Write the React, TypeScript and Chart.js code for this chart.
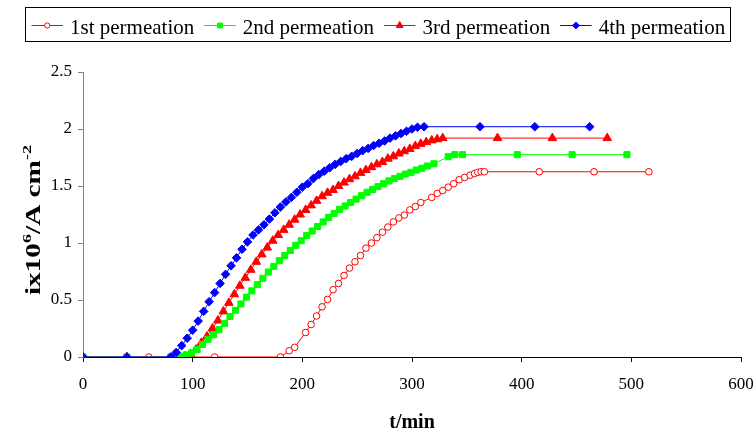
import React, { useEffect, useRef } from 'react';
import { Chart, registerables } from 'chart.js';

Chart.register(...registerables);

const SERIES_NAMES = ['1st permeation', '2nd permeation', '3rd permeation', '4th permeation'];

const X_TICKS = [0, 100, 200, 300, 400, 500, 600];
const Y_TICKS = [0, 0.5, 1, 1.5, 2, 2.5];

const T1 = [0, 60, 120, 180, 188, 193, 203, 208, 213, 218, 223, 228, 233, 238, 243, 248, 253, 258, 263, 268, 273, 278, 283, 288, 293, 298, 303, 308, 318, 323, 328, 333, 338, 343, 348, 353, 357, 360, 363, 366, 416, 466, 516];
const V1 = [0, 0, 0, 0, 0.055, 0.085, 0.215, 0.285, 0.36, 0.44, 0.505, 0.59, 0.645, 0.715, 0.78, 0.835, 0.89, 0.955, 1.0, 1.047, 1.095, 1.14, 1.185, 1.22, 1.245, 1.29, 1.32, 1.355, 1.4, 1.435, 1.46, 1.49, 1.52, 1.555, 1.575, 1.595, 1.61, 1.62, 1.625, 1.625, 1.625, 1.625, 1.625];

const T2 = [0, 40, 80, 84, 89, 94, 99, 104, 109, 114, 119, 124, 129, 134, 139, 144, 149, 154, 159, 164, 169, 174, 179, 184, 189, 194, 199, 204, 209, 214, 219, 224, 229, 234, 239, 244, 249, 254, 259, 264, 269, 274, 279, 284, 289, 294, 299, 304, 309, 314, 320, 333, 339, 346, 396, 446, 496];
const V2 = [0, 0, 0, 0, 0.005, 0.018, 0.035, 0.065, 0.11, 0.155, 0.195, 0.24, 0.295, 0.355, 0.41, 0.465, 0.525, 0.58, 0.635, 0.69, 0.745, 0.795, 0.845, 0.89, 0.935, 0.98, 1.02, 1.065, 1.105, 1.145, 1.185, 1.225, 1.26, 1.295, 1.325, 1.355, 1.385, 1.415, 1.445, 1.47, 1.495, 1.52, 1.545, 1.565, 1.585, 1.605, 1.62, 1.64, 1.655, 1.675, 1.695, 1.757, 1.775, 1.775, 1.775, 1.775, 1.775];

const T3 = [0, 40, 88, 93, 98, 103, 108, 113, 118, 123, 128, 133, 138, 143, 148, 153, 158, 163, 168, 173, 178, 183, 188, 193, 198, 203, 208, 213, 218, 223, 228, 233, 238, 243, 248, 253, 258, 263, 268, 273, 278, 283, 288, 293, 298, 303, 308, 313, 318, 323, 328, 378, 428, 478];
const V3 = [0, 0, 0, 0.005, 0.025, 0.065, 0.125, 0.18, 0.25, 0.32, 0.4, 0.475, 0.55, 0.625, 0.695, 0.765, 0.835, 0.9, 0.96, 1.02, 1.07, 1.115, 1.16, 1.205, 1.25, 1.29, 1.33, 1.37, 1.41, 1.44, 1.465, 1.5, 1.53, 1.56, 1.585, 1.615, 1.64, 1.665, 1.69, 1.71, 1.74, 1.76, 1.785, 1.805, 1.825, 1.85, 1.87, 1.885, 1.9, 1.91, 1.92, 1.92, 1.92, 1.92];

const T4 = [0, 40, 80, 85, 90, 95, 100, 105, 110, 115, 120, 125, 130, 135, 140, 145, 150, 155, 160, 165, 170, 175, 180, 185, 190, 195, 200, 205, 210, 215, 220, 225, 230, 235, 240, 245, 250, 255, 260, 265, 270, 275, 280, 285, 290, 295, 300, 305, 311, 362, 412, 462];
const V4 = [0, 0, 0, 0.04, 0.1, 0.165, 0.235, 0.315, 0.4, 0.485, 0.565, 0.645, 0.725, 0.8, 0.87, 0.945, 1.01, 1.07, 1.115, 1.16, 1.21, 1.265, 1.315, 1.36, 1.4, 1.445, 1.49, 1.52, 1.565, 1.6, 1.63, 1.66, 1.69, 1.715, 1.74, 1.76, 1.785, 1.81, 1.83, 1.855, 1.875, 1.895, 1.92, 1.94, 1.96, 1.98, 2.0, 2.015, 2.02, 2.02, 2.02, 2.02];

const COLORS = ['#FF0000', '#00FF00', '#FF0000', '#0000FF'];
const STYLES = ['circle', 'rect', 'triangle', 'rectRot'];
const RADII = [3.3, 4.3, 5, 4.3];

const FONT = "'Liberation Serif', 'Times New Roman', serif";

function pts(t: number[], v: number[]) {
  return t.map((x, i) => ({ x, y: v[i] }));
}

function drawMarker(ctx: CanvasRenderingContext2D, style: string, x: number, y: number, r: number, color: string) {
  ctx.save();
  ctx.strokeStyle = color;
  ctx.fillStyle = style === 'circle' ? '#FFFFFF' : color;
  ctx.lineWidth = 1;
  ctx.beginPath();
  if (style === 'circle') {
    ctx.arc(x, y, r, 0, Math.PI * 2);
  } else if (style === 'rect') {
    const s = r * Math.SQRT1_2;
    ctx.rect(x - s, y - s, 2 * s, 2 * s);
  } else if (style === 'triangle') {
    ctx.moveTo(x, y - r);
    ctx.lineTo(x + r * 0.866, y + r * 0.5);
    ctx.lineTo(x - r * 0.866, y + r * 0.5);
    ctx.closePath();
  } else {
    ctx.moveTo(x, y - r);
    ctx.lineTo(x + r, y);
    ctx.lineTo(x, y + r);
    ctx.lineTo(x - r, y);
    ctx.closePath();
  }
  ctx.fill();
  ctx.stroke();
  ctx.restore();
}

const decorPlugin = {
  id: 'decor',
  afterDraw(chart: any) {
    const ctx: CanvasRenderingContext2D = chart.ctx;
    const area = chart.chartArea;
    ctx.save();
    // Legend
    ctx.font = `21px ${FONT}`;
    let x = 31.5;
    const ly = 25.5;
    const ends: number[] = [];
    SERIES_NAMES.forEach((name, i) => {
      ctx.strokeStyle = COLORS[i];
      ctx.lineWidth = 1;
      ctx.beginPath();
      ctx.moveTo(x, ly);
      ctx.lineTo(x + 31.5, ly);
      ctx.stroke();
      drawMarker(ctx, STYLES[i], x + 15.75, ly, RADII[i] * 0.8, COLORS[i]);
      ctx.fillStyle = '#000';
      ctx.textAlign = 'left';
      ctx.textBaseline = 'alphabetic';
      ctx.fillText(name, x + 38.5, 34);
      const w = ctx.measureText(name).width;
      ends.push(x + 38.5 + w);
      x = x + 38.5 + w + 10;
    });
    ctx.strokeStyle = '#000';
    ctx.lineWidth = 1;
    ctx.strokeRect(25.5, 7.5, Math.round(ends[ends.length - 1] + 5) - 25, 34);

    // X title
    ctx.fillStyle = '#000';
    ctx.font = `bold 20px ${FONT}`;
    ctx.textAlign = 'center';
    ctx.textBaseline = 'alphabetic';
    ctx.fillText('t/min', (area.left + area.right) / 2, 428);

    // Y title with superscripts
    const parts = [
      { t: 'ix10', sup: false },
      { t: '6', sup: true },
      { t: '/A cm', sup: false },
      { t: '-2', sup: true },
    ];
    const big = `bold 21px ${FONT}`;
    const small = `bold 13px ${FONT}`;
    let total = 0;
    const widths = parts.map((p) => {
      ctx.font = p.sup ? small : big;
      const w = ctx.measureText(p.t).width;
      total += w;
      return w;
    });
    const target = 150;
    ctx.translate(40, 220);
    ctx.rotate(-Math.PI / 2);
    ctx.scale(target / total, 1);
    let px = -total / 2;
    ctx.textAlign = 'left';
    parts.forEach((p, i) => {
      ctx.font = p.sup ? small : big;
      ctx.fillText(p.t, px, p.sup ? -9 : 0);
      px += widths[i];
    });
    ctx.restore();
  },
};

export default function App() {
  const ref = useRef<HTMLCanvasElement | null>(null);

  useEffect(() => {
    const canvas = ref.current;
    if (!canvas) return;
    const data = [pts(T1, V1), pts(T2, V2), pts(T3, V3), pts(T4, V4)];
    const orders = [3, 1, 2, 0];
    const chart = new Chart(canvas, {
      type: 'line',
      data: {
        datasets: SERIES_NAMES.map((name, i) => ({
          label: name,
          data: data[i],
          borderColor: COLORS[i],
          backgroundColor: i === 0 ? '#FFFFFF' : COLORS[i],
          borderWidth: 1,
          pointStyle: STYLES[i] as any,
          pointRadius: RADII[i],
          pointBorderWidth: 1,
          pointBorderColor: COLORS[i],
          pointBackgroundColor: i === 0 ? '#FFFFFF' : COLORS[i],
          tension: 0,
          fill: false,
          order: orders[i],
        })),
      },
      options: {
        animation: false,
        responsive: false,
        layout: { padding: { left: 0, top: 72, right: 12, bottom: 0 } },
        plugins: {
          legend: { display: false },
          tooltip: { enabled: false },
          title: { display: false },
        },
        scales: {
          x: {
            type: 'linear',
            min: X_TICKS[0],
            max: X_TICKS[X_TICKS.length - 1],
            afterFit: (s: any) => {
              s.height = 75;
              s.paddingLeft = 0;
              s.paddingRight = 0;
            },
            afterBuildTicks: (s: any) => {
              s.ticks = X_TICKS.map((v) => ({ value: v }));
            },
            ticks: {
              padding: 12,
              color: '#000',
              maxRotation: 0,
              autoSkip: false,
              font: { family: FONT, size: 17 },
              callback: (v: any) => String(v),
            },
            grid: { drawOnChartArea: false, drawTicks: true, tickLength: 5, color: '#000' },
            border: { color: '#000', width: 1 },
          },
          y: {
            type: 'linear',
            min: Y_TICKS[0],
            max: Y_TICKS[Y_TICKS.length - 1],
            afterFit: (s: any) => {
              s.width = 83;
              s.paddingTop = 0;
              s.paddingBottom = 0;
            },
            afterBuildTicks: (s: any) => {
              s.ticks = Y_TICKS.map((v) => ({ value: v }));
            },
            ticks: {
              padding: 6,
              color: '#000',
              autoSkip: false,
              font: { family: FONT, size: 17 },
              callback: (v: any) => String(v),
            },
            grid: { drawOnChartArea: false, drawTicks: true, tickLength: 5, color: '#808080' },
            border: { color: '#808080', width: 1 },
          },
        },
      },
      plugins: [decorPlugin],
    } as any);
    return () => chart.destroy();
  }, []);

  return (
    <div style={{ position: 'absolute', left: 0, top: 0, width: 753, height: 432, background: '#fff' }}>
      <canvas ref={ref} width={753} height={432} style={{ width: '753px', height: '432px', display: 'block' }} />
    </div>
  );
}
